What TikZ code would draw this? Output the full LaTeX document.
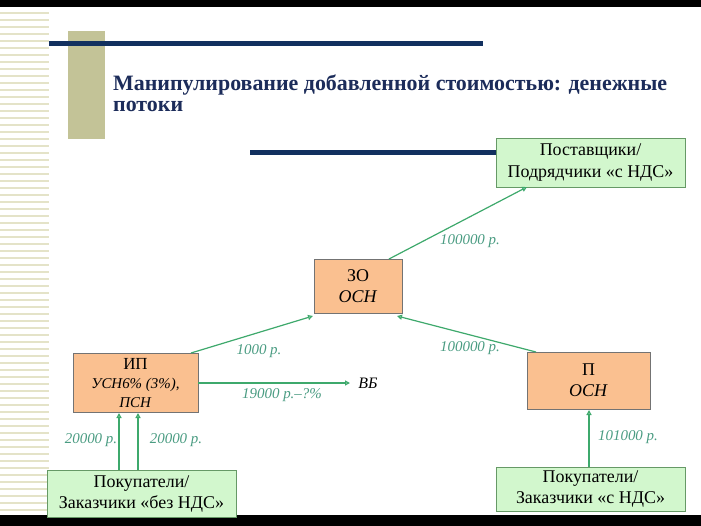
\documentclass[tikz,border=0pt]{standalone}
\usepackage{fontspec}
\setmainfont{Liberation Serif}
\usetikzlibrary{arrows.meta}
\definecolor{navy}{HTML}{12305F}
\definecolor{olive}{HTML}{C3C397}
\definecolor{stripe}{HTML}{E4E3C8}
\definecolor{boxgreen}{HTML}{D2F7CD}
\definecolor{boxorange}{HTML}{FAC090}
\definecolor{linegreen}{HTML}{3EA96C}
\definecolor{labelgreen}{HTML}{4A9C82}
\definecolor{titleblue}{HTML}{1C2C5A}
\tikzset{
  x=1bp, y=-1bp,
  gbox/.style={draw=gray!80!green, line width=0.8bp, fill=boxgreen, align=center, inner sep=0pt, font=\fontsize{18}{22}\selectfont},
  obox/.style={draw=gray!90!black, line width=0.8bp, fill=boxorange, align=center, inner sep=0pt, font=\fontsize{18}{21}\selectfont},
  flow/.style={draw=linegreen, line width=1.2bp, -{Triangle[open, length=5bp, width=5bp]}},
  lbl/.style={text=labelgreen, font=\fontsize{15}{17}\selectfont\itshape, inner sep=0pt},
  ttl/.style={anchor=base west, inner sep=0pt, text=titleblue, font=\fontsize{22}{22}\selectfont\bfseries}
}
\begin{document}
\begin{tikzpicture}
\useasboundingbox (0,0) rectangle (701,526);
\fill[white] (0,0) rectangle (701,526);
% stripes on left
\foreach \yy in {12,19,26,33,40,47,54,61,68,75,82,89,96,103,110,117,124,131,138,145,152,159,166,173,180,187,194,201,208,215,222,229,236,243,250,257,264,271,278,285,292,299,306,313,320,327,334,341,348,355,362,369,376,383,390,397,404,411,418,425,432,439,446,453,460,467,474,481,488,495,502,509}
  \fill[stripe] (0,\yy) rectangle (49,\yy+2);
% black bars
\fill[black] (0,0) rectangle (701,7);
\fill[black] (0,515) rectangle (701,526);
% olive block and navy lines
\fill[olive] (68,31) rectangle (105,139);
\fill[navy] (49,41) rectangle (483,46);
\fill[navy] (250,150.5) rectangle (500,155.5);
% title
\node[ttl] (t1) at (113,91) {Манипулирование добавленной стоимостью: денежные};
\node[ttl] (t2) at (113,112) {потоки};
% boxes
\node[gbox, minimum width=189bp, minimum height=49bp] (sup) at (590.5,162.5) {Поставщики/\\Подрядчики «с НДС»};
\node[obox, minimum width=88bp, minimum height=54bp] (zo) at (358,286) {ЗО\\\textit{ОСН}};
\node[obox, minimum width=125bp, minimum height=59bp, font=\fontsize{15}{19}\selectfont] (ip) at (135.5,383) {{\fontsize{17}{19}\selectfont ИП}\\\textit{УСН6\% (3\%),}\\\textit{ПСН}};
\node[obox, minimum width=123bp, minimum height=57bp] (p) at (588.5,380.5) {П\\\textit{ОСН}};
\node[gbox, minimum width=189bp, minimum height=47bp] (bno) at (141.5,494) {Покупатели/\\Заказчики «без НДС»};
\node[gbox, minimum width=189bp, minimum height=44bp] (bsn) at (590.5,489) {Покупатели/\\Заказчики «с НДС»};
\node[inner sep=0pt, font=\fontsize{16}{18}\selectfont\itshape] (vb) at (368,383) {ВБ};
\coordinate (vbend) at (350,383);
% arrows
\draw[flow] (389,259) -- (527,187);
\draw[flow] (191,353) -- (313,316);
\draw[flow] (536,352) -- (397,316);
\draw[flow] (ip.east |- 0,383) -- (vbend);
\draw[flow] (119,470) -- (119,413);
\draw[flow] (138,470) -- (138,413);
\draw[flow] (589,467) -- (589,410);
% labels
\node[lbl] (l1) at (470,241) {100000 р.};
\node[lbl] (l2) at (259,351) {1000 р.};
\node[lbl] (l3) at (470,348) {100000 р.};
\node[lbl] (l4) at (282,395) {19000 р.–?\%};
\node[lbl] (l5) at (91,440) {20000 р.};
\node[lbl] (l6) at (176,440) {20000 р.};
\node[lbl] (l7) at (628,437) {101000 р.};
\end{tikzpicture}
\end{document}
